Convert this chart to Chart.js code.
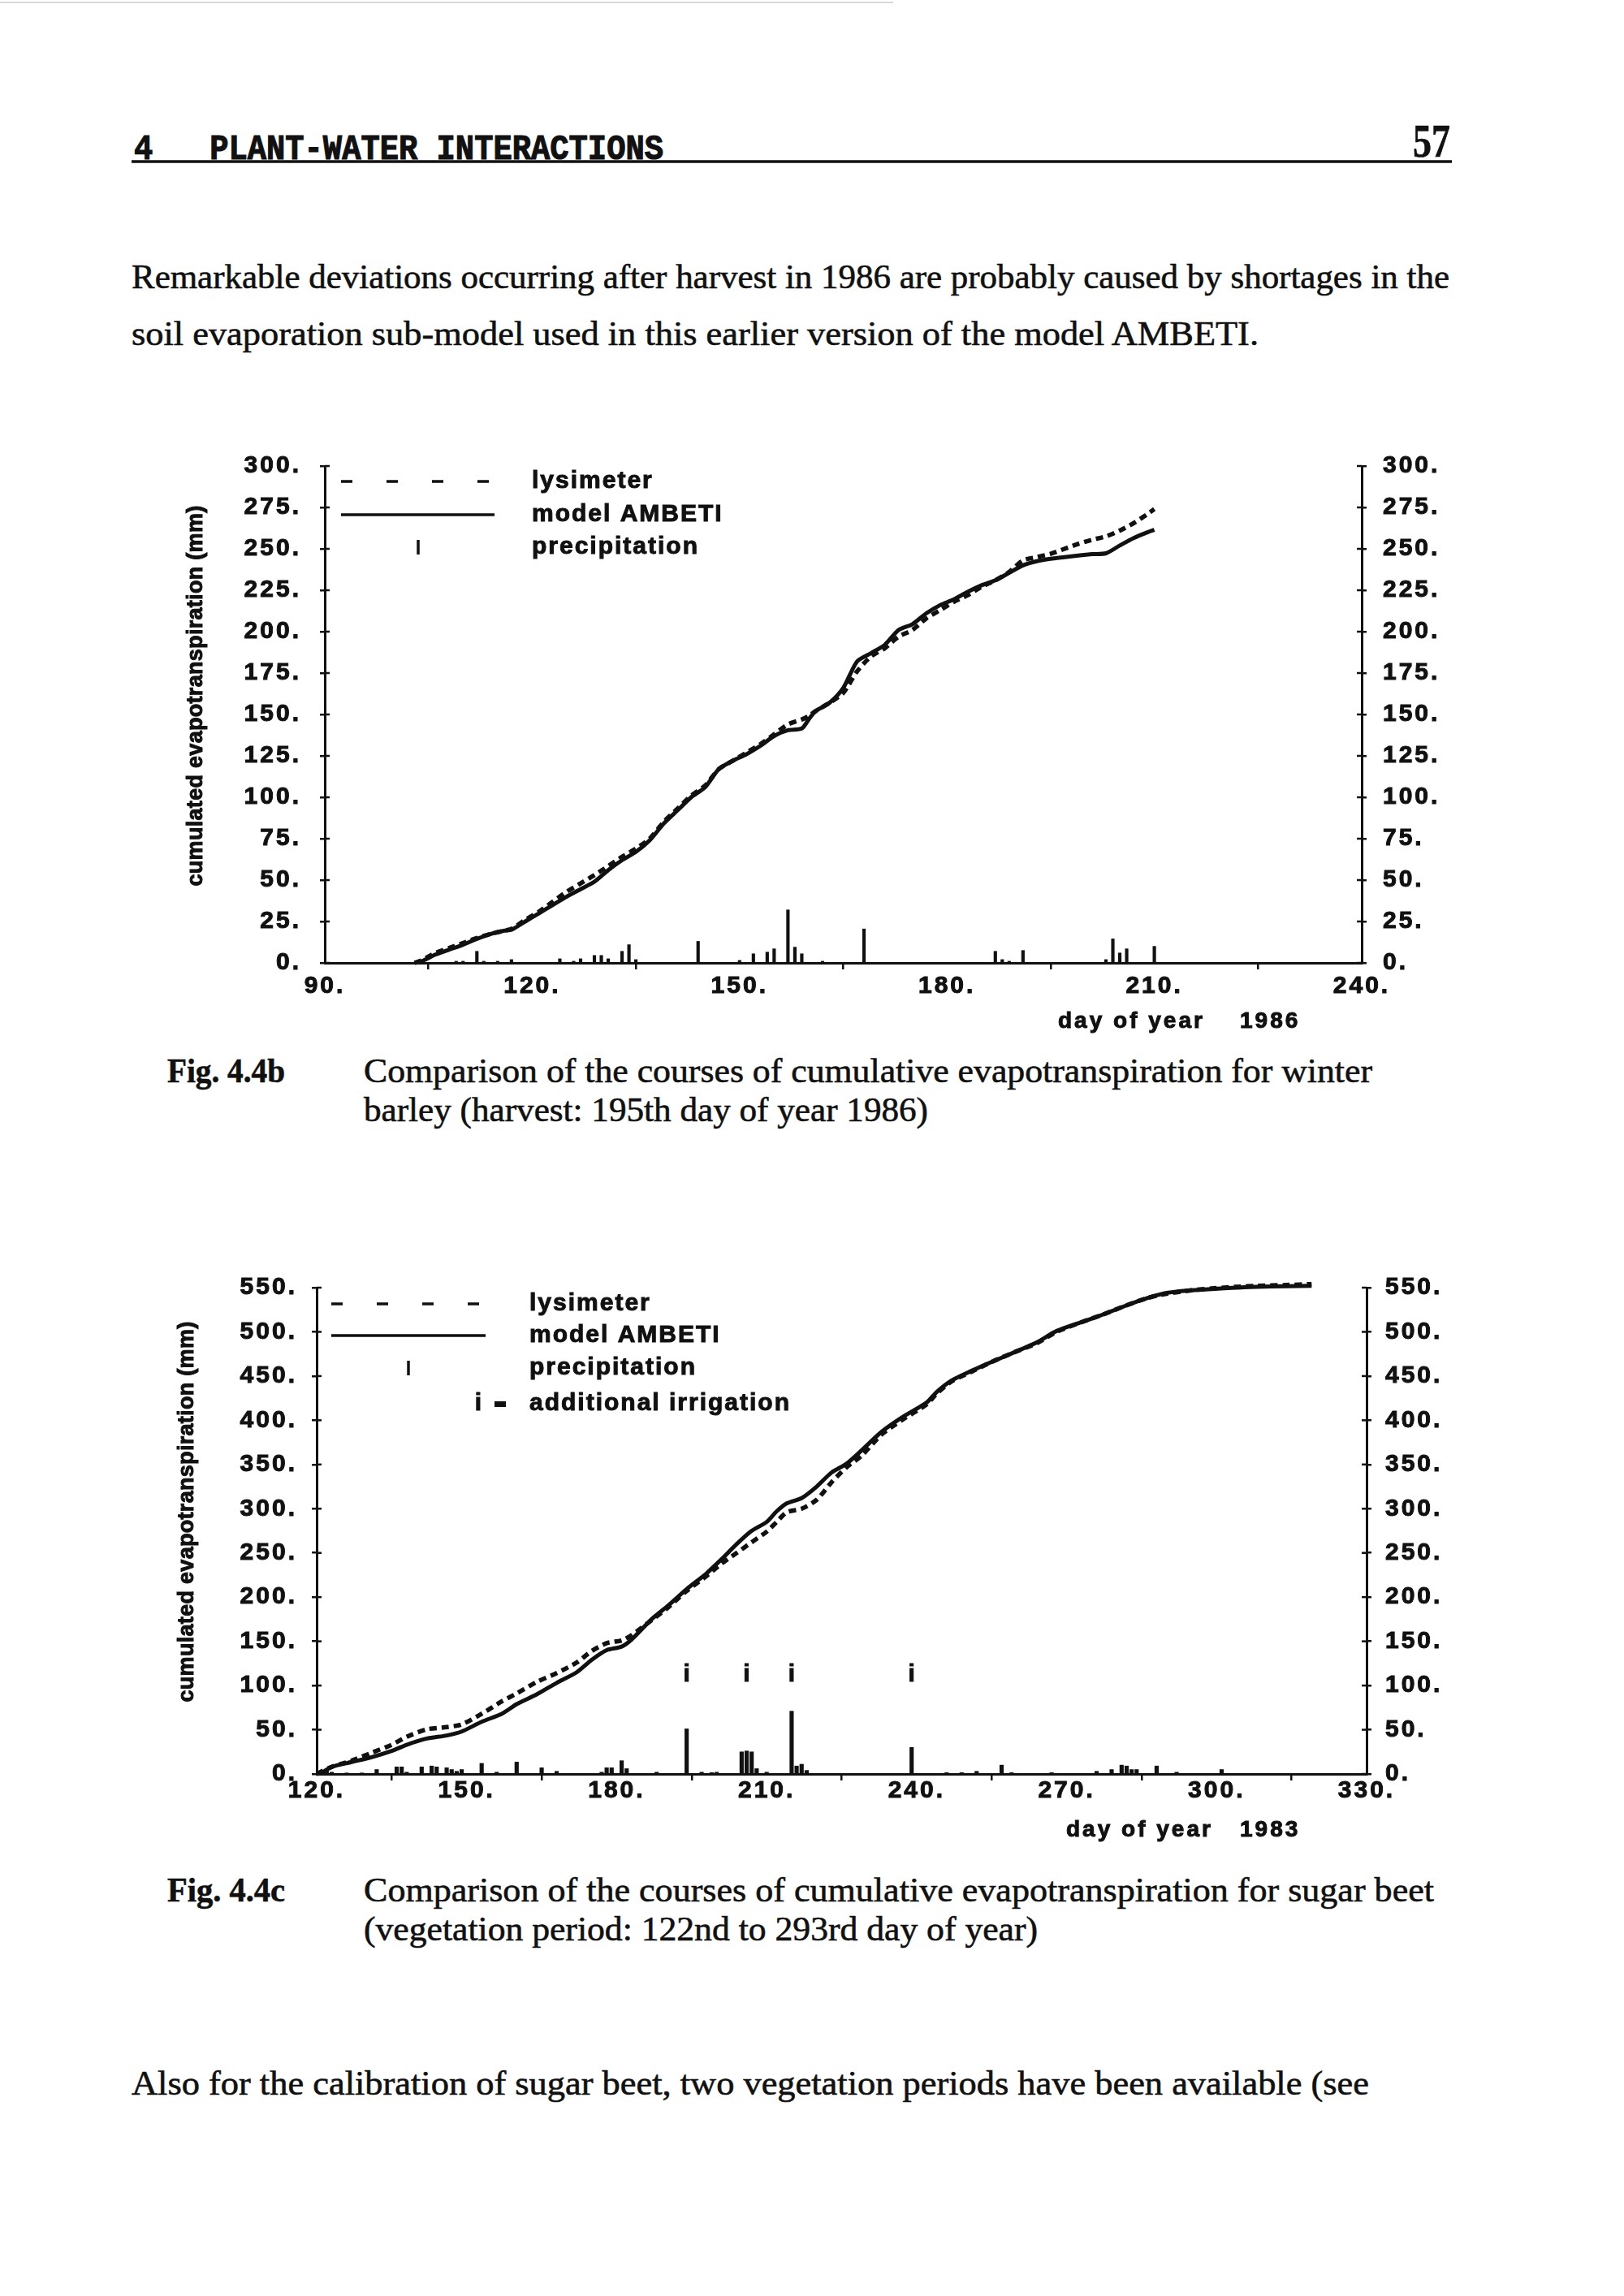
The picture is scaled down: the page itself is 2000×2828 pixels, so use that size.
<!DOCTYPE html>
<html>
<head>
<meta charset="utf-8">
<script src="https://cdn.jsdelivr.net/npm/chart.js@4.4.1/dist/chart.umd.min.js"></script>
<style>
html, body { margin: 0; padding: 0; background: #fff; }
#page { position: relative; width: 2000px; height: 2828px; overflow: hidden; background: #fff; }
#paperText { position: absolute; left: 0; top: 0; }
#paperText text { fill: #111; stroke: #111; stroke-width: 0.6px; white-space: pre; }
canvas { position: absolute; }
</style>
</head>
<body>
<div id="page">
<svg id="paperText" width="2000" height="2828">
  <line x1="0" y1="3" x2="1100" y2="3" stroke="#d8d8d8" stroke-width="2"/>
  <text x="165" y="196" font-family="Liberation Mono" font-weight="bold" font-size="44" style="stroke-width:1.2px" textLength="652" lengthAdjust="spacingAndGlyphs">4   PLANT-WATER INTERACTIONS</text>
  <text x="1740" y="193" font-family="Liberation Serif" font-weight="bold" font-size="58" textLength="46" lengthAdjust="spacingAndGlyphs">57</text>
  <line x1="162" y1="199" x2="1788" y2="199" stroke="#111" stroke-width="3.5"/>
  <text x="162" y="355" font-family="Liberation Serif" font-size="42" textLength="1623" lengthAdjust="spacingAndGlyphs">Remarkable deviations occurring after harvest in 1986 are probably caused by shortages in the</text>
  <text x="162" y="425" font-family="Liberation Serif" font-size="42" textLength="1388" lengthAdjust="spacingAndGlyphs">soil evaporation sub-model used in this earlier version of the model AMBETI.</text>

  <text x="206" y="1333" font-family="Liberation Serif" font-weight="bold" font-size="42" textLength="145" lengthAdjust="spacingAndGlyphs">Fig. 4.4b</text>
  <text x="448" y="1333" font-family="Liberation Serif" font-size="42" textLength="1242" lengthAdjust="spacingAndGlyphs">Comparison of the courses of cumulative evapotranspiration for winter</text>
  <text x="448" y="1381" font-family="Liberation Serif" font-size="42" textLength="695" lengthAdjust="spacingAndGlyphs">barley (harvest: 195th day of year 1986)</text>

  <text x="206" y="2342" font-family="Liberation Serif" font-weight="bold" font-size="42" textLength="145" lengthAdjust="spacingAndGlyphs">Fig. 4.4c</text>
  <text x="448" y="2342" font-family="Liberation Serif" font-size="42" textLength="1318" lengthAdjust="spacingAndGlyphs">Comparison of the courses of cumulative evapotranspiration for sugar beet</text>
  <text x="448" y="2390" font-family="Liberation Serif" font-size="42" textLength="830" lengthAdjust="spacingAndGlyphs">(vegetation period: 122nd to 293rd day of year)</text>

  <text x="162" y="2580" font-family="Liberation Serif" font-size="42" textLength="1524" lengthAdjust="spacingAndGlyphs">Also for the calibration of sugar beet, two vegetation periods have been available (see</text>
</svg>
<canvas id="barleyChart" width="1700" height="800" style="left:150px;top:520px"></canvas>
<canvas id="beetChart" width="1700" height="800" style="left:150px;top:1530px"></canvas>
</div>
<script>
// Fig. 4.4b - winter barley 1986
const barleyDays = [103, 104, 106, 108, 110, 112, 114, 116, 117, 119, 121, 123, 125, 127, 129, 131, 133, 135, 137, 139,
    141, 143, 145, 147, 149, 151, 153, 155, 157, 159, 160, 161, 163, 165, 167, 169, 171, 173, 175, 177,
    179, 181, 183, 185, 187, 189, 191, 193, 195, 197, 199, 201, 203, 205, 207, 209, 210];
const barleyModel = [0, 1, 5, 8, 11, 14.5, 17.5, 19.5, 20, 25, 30, 35, 40, 44.5, 49, 56, 62, 67, 74, 84,
    92, 100, 106, 117, 122, 126, 131, 137, 140.5, 141.5, 147, 152, 157, 166, 182, 187, 192, 201, 204.5, 211,
    216, 219.5, 224, 228, 231, 235.5, 240, 242.5, 244, 245, 246, 246.8, 247.3, 252, 256.5, 260, 261.5];
const barleyLysimeter = [0, 1.5, 6, 9, 12, 15, 17.5, 19.5, 20.5, 26, 31, 37, 43, 48, 53, 58.5, 64, 69, 75, 85,
    93, 101, 107, 117, 122, 127, 132, 138, 144, 147, 149, 152, 157, 163, 176, 185, 190, 197, 201, 208,
    213, 218, 222, 227, 231, 236, 243, 245, 247, 250, 253, 255.5, 257.5, 261, 265.5, 271, 274];
const barleyRainDays = [109, 110, 112, 113, 115, 117, 124, 126, 127, 129, 130, 131, 133, 134, 135, 144, 150, 152, 154, 155,
    157, 158, 159, 162, 168, 187, 188, 189, 191, 203, 204, 205, 206, 210];
const barleyRainMm = [1, 1, 7, 1, 1, 2, 2.5, 1, 2.5, 4.5, 4.5, 2.5, 7, 11, 2, 13, 1.5, 5.5, 6.5, 8.5,
    32, 9.5, 5.5, 1, 20.5, 7, 2, 1, 7.5, 2, 14.5, 6, 8.5, 10];

// Fig. 4.4c - sugar beet 1983
const beetDays = [120, 121, 123, 127, 131, 135, 138, 142, 146, 149, 153, 157, 160, 164, 168, 172, 175, 178, 181, 183,
    187, 190, 194, 198, 201, 204, 207, 210, 212, 214, 217, 220, 223, 226, 229, 233, 237, 242, 244, 247,
    251, 255, 260, 264, 268, 273, 277, 282, 286, 290, 295, 299, 304, 308, 314, 319];
const beetModel = [0, 1.5, 8, 13.5, 19, 26, 33, 40, 43.5, 48, 59, 68, 79, 90, 103, 115, 129, 140, 144, 152,
    175, 189, 209, 227, 243, 260, 275, 285, 297, 306, 312, 325, 341, 351, 366, 387, 403, 420, 432, 445,
    456, 466, 478, 488, 501, 511, 519, 530, 538, 544, 547, 548.5, 550, 551, 551.5, 552];
const beetLysimeter = [0, 3, 8, 15, 24, 33, 42, 50.5, 53, 56, 68, 82, 91, 104, 114, 126, 139, 148, 151, 157,
    174, 187, 207, 224, 238, 250, 262, 274, 285, 296, 300, 310, 330, 347, 360, 384, 400, 418, 430, 444,
    455, 466, 478, 487, 500, 511, 519, 530, 538, 543, 547, 549, 551, 552, 553, 554];
const beetRainDays = [121, 122, 123, 126, 129, 132, 136, 137, 138, 141, 143, 144, 146, 147, 148, 149, 153, 156, 160, 165,
    168, 177, 178, 179, 181, 182, 188, 194, 197, 199, 200, 205, 206, 207, 208, 210, 215, 216, 217, 218,
    239, 246, 249, 252, 257, 259, 267, 276, 279, 281, 282, 283, 284, 288, 292, 301];
const beetRainMm = [3, 5, 2, 1, 1, 5, 8, 8, 2, 8, 9, 8, 7, 5, 3, 5, 12, 2, 13.5, 7,
    3, 2, 7, 7, 15, 6, 2, 51, 2, 1.5, 2, 25, 26, 25, 6, 2, 71, 9, 11, 4,
    30, 1.5, 1.5, 3, 10, 1.5, 1.5, 3, 5, 10, 9, 5, 5, 9, 2, 5];
const irrigationDays = [194, 206, 215, 239];

const legendLabels = ['lysimeter', 'model AMBETI', 'precipitation', 'additional irrigation'];
const yAxisTitle = 'cumulated evapotranspiration (mm)';
const xAxisTitle = 'day of year';

const ink = '#111';
const FONT = "'Liberation Sans', Arial, sans-serif";

Chart.defaults.font.family = FONT;
Chart.defaults.font.size = 30;
Chart.defaults.font.weight = 'bold';
Chart.defaults.color = ink;

function points(days, values) {
    return days.map((d, i) => ({ x: d, y: values[i] }));
}

// draws the parts the old plot program had: crossing ticks, titles, legend, irrigation marks
function paperPlugin(cfg) {
    return {
        id: 'paper',
        beforeDraw(chart) {
            chart.ctx.letterSpacing = '3px';
        },
        afterDraw(chart) {
            const ctx = chart.ctx;
            const ox = cfg.left, oy = cfg.top;
            const xs = chart.scales.x, ys = chart.scales.y;
            const a = chart.chartArea;
            const line = (x1, y1, x2, y2) => {
                ctx.beginPath();
                ctx.moveTo(x1, y1);
                ctx.lineTo(x2, y2);
                ctx.stroke();
            };
            const text = (s, x, y) => {
                ctx.lineWidth = 1;
                ctx.fillText(s, x, y);
                ctx.strokeText(s, x, y);
            };
            ctx.save();
            ctx.strokeStyle = ink;
            ctx.fillStyle = ink;
            ctx.lineWidth = 2.5;
            ys.ticks.forEach(t => {
                const py = ys.getPixelForValue(t.value);
                line(a.left, py, a.left + 6, py);
                line(a.right - 6, py, a.right, py);
            });

            // y title
            ctx.font = 'bold 27px ' + FONT;
            ctx.letterSpacing = '0.3px';
            ctx.textAlign = 'center';
            ctx.textBaseline = 'middle';
            ctx.save();
            ctx.translate(cfg.yTitle[0] - ox, cfg.yTitle[1] - oy);
            ctx.rotate(-Math.PI / 2);
            text(yAxisTitle, 0, 0);
            ctx.restore();

            // x title
            ctx.font = 'bold 28px ' + FONT;
            ctx.letterSpacing = '3px';
            ctx.textAlign = 'left';
            text(xAxisTitle, cfg.xTitle[0] - ox, cfg.xTitle[2] - oy);
            text(cfg.year, cfg.xTitle[1] - ox, cfg.xTitle[2] - oy);

            // legend
            const lg = cfg.legend;
            const r = lg.rows.map(v => v - oy);
            ctx.font = 'bold 30px ' + FONT;
            ctx.letterSpacing = '2px';
            ctx.lineWidth = 3.5;
            ctx.setLineDash([14, 42]);
            line(lg.x0 - ox, r[0], lg.x1 - ox, r[0]);
            ctx.setLineDash([]);
            ctx.lineWidth = 3.5;
            line(lg.x0 - ox, r[1], lg.x1 - ox, r[1]);
            line(lg.bar - ox, r[2] - 9, lg.bar - ox, r[2] + 9);
            r.forEach((ry, i) => text(legendLabels[i], lg.text - ox, ry));
            if (r.length > 3) {
                ctx.textAlign = 'center';
                text('i', lg.iX - ox, r[3]);
                ctx.fillRect(lg.dash[0] - ox, r[3] - 3, lg.dash[1] - lg.dash[0], 7);
            }

            // irrigation marks above the bars
            if (cfg.irrigation) {
                ctx.font = 'bold 30px ' + FONT;
                ctx.letterSpacing = '0px';
                ctx.textAlign = 'center';
                cfg.irrigation.days.forEach(d => {
                    text('i', xs.getPixelForValue(d), ys.getPixelForValue(cfg.irrigation.level));
                });
            }
            ctx.restore();
        }
    };
}

function axisGrid(len) {
    return { drawOnChartArea: false, drawTicks: true, tickLength: len, color: ink, lineWidth: 2.5 };
}

function tickStyle(stepSize, padding) {
    return {
        stepSize: stepSize,
        autoSkip: false,
        maxRotation: 0,
        padding: padding,
        textStrokeColor: ink,
        textStrokeWidth: 1,
        callback: v => v + '.',
    };
}

function makeChart(el, opt) {
    return new Chart(el, {
        type: 'line',
        data: {
            datasets: [
                {
                    label: 'lysimeter',
                    data: points(opt.days, opt.lysimeter),
                    borderColor: ink,
                    borderWidth: 5.5,
                    borderDash: [9, 6],
                    pointRadius: 0,
                    tension: 0.25,
                    clip: false,
                },
                {
                    label: 'model AMBETI',
                    data: points(opt.days, opt.model),
                    borderColor: ink,
                    borderWidth: 5,
                    pointRadius: 0,
                    tension: 0.25,
                    clip: false,
                },
                {
                    type: 'bar',
                    label: 'precipitation',
                    data: points(opt.rainDays, opt.rainMm),
                    backgroundColor: ink,
                    barThickness: opt.barWidth,
                },
            ],
        },
        options: {
            responsive: false,
            animation: false,
            devicePixelRatio: 1,
            events: [],
            layout: { padding: { top: opt.padTop, left: 0, right: 0, bottom: 0 } },
            plugins: {
                legend: { display: false },
                tooltip: { enabled: false },
            },
            scales: {
                x: {
                    type: 'linear',
                    min: opt.xMin,
                    max: opt.xMax,
                    offset: false,
                    grid: axisGrid(8),
                    border: { display: true, color: ink, width: 3 },
                    ticks: tickStyle(30, opt.xPad),
                    afterFit: s => { s.height = opt.xHeight; },
                },
                y: {
                    position: 'left',
                    min: 0,
                    max: opt.yMax,
                    grid: axisGrid(6),
                    border: { display: true, color: ink, width: 3 },
                    ticks: tickStyle(opt.yStep, opt.yPad),
                    afterFit: s => { s.width = opt.leftWidth; },
                },
                y2: {
                    position: 'right',
                    display: true,
                    min: 0,
                    max: opt.yMax,
                    grid: axisGrid(6),
                    border: { display: true, color: ink, width: 3 },
                    ticks: tickStyle(opt.yStep, opt.y2Pad),
                    afterFit: s => { s.width = opt.rightWidth; },
                },
            },
        },
        plugins: [paperPlugin(opt.paper)],
    });
}

makeChart(document.getElementById('barleyChart'), {
    days: barleyDays,
    model: barleyModel,
    lysimeter: barleyLysimeter,
    rainDays: barleyRainDays,
    rainMm: barleyRainMm,
    xMin: 90, xMax: 240, yMax: 300, yStep: 25,
    padTop: 54, xHeight: 134, leftWidth: 250, rightWidth: 173,
    xPad: 3, yPad: 23, y2Pad: 20, barWidth: 3.5,
    paper: {
        left: 150, top: 520,
        yTitle: [242, 857],
        xTitle: [1303, 1527, 1258],
        year: '1986',
        legend: { x0: 420, x1: 609, bar: 515, text: 655, rows: [593, 634, 674] },
    },
});

makeChart(document.getElementById('beetChart'), {
    days: beetDays,
    model: beetModel,
    lysimeter: beetLysimeter,
    rainDays: beetRainDays,
    rainMm: beetRainMm,
    xMin: 120, xMax: 330, yMax: 550, yStep: 50,
    padTop: 56, xHeight: 145, leftWidth: 240, rightWidth: 167,
    xPad: -5, yPad: 18, y2Pad: 17, barWidth: 4.5,
    paper: {
        left: 150, top: 1530,
        yTitle: [231, 1862],
        xTitle: [1313, 1527, 2254],
        year: '1983',
        legend: { x0: 408, x1: 598, bar: 503, text: 652, iX: 590, dash: [609, 623], rows: [1606, 1645, 1685, 1729] },
        irrigation: { days: irrigationDays, level: 112 },
    },
});
</script>
</body>
</html>
